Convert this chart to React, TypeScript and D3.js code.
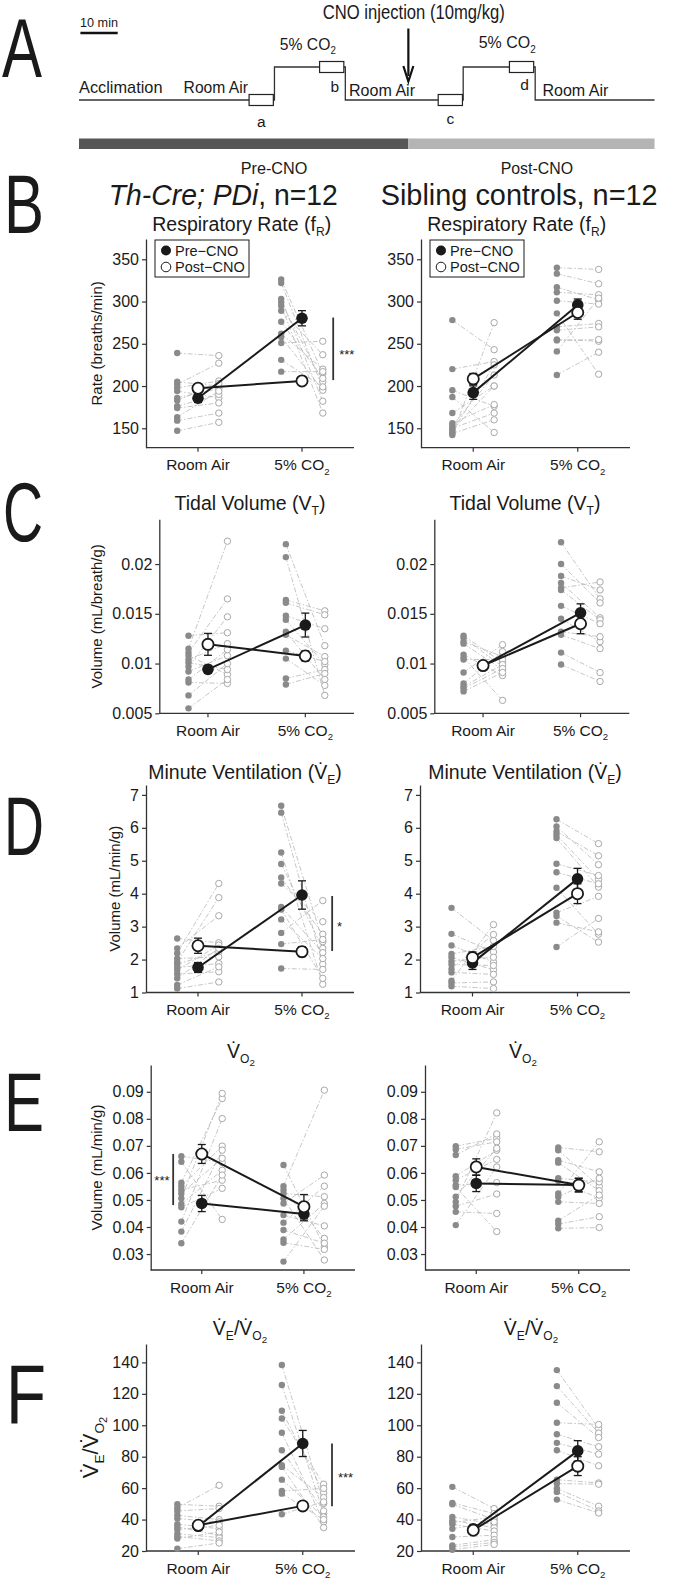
import { useEffect, useRef } from 'react';
import * as d3 from 'd3';

const W = 683;
const H = 1585;
const FONT = '"Liberation Sans", Arial, Helvetica, sans-serif';

// ---- data (subjects listed in the same order in pre / post arrays) ----
const categories = ['Room Air', '5% CO2'];

// Respiratory rate (breaths/min)
const thFrPreRoom = [239, 205, 202, 198, 194, 186, 183, 176, 174, 163, 159, 147];
const thFrPostRoom = [236, 200, 227, 206, 186, 197, 203, 190, 180, 194, 168, 157];
const thFrPreCo2 = [326, 322, 303, 299, 295, 289, 276, 262, 258, 251, 231, 217];
const thFrPostCo2 = [215, 197, 182, 205, 168, 237, 209, 220, 195, 253, 199, 217];
const thFrMean = [185.5, 197.3, 280.2, 206];
const thFrSem = [5, 5, 9, 4];

const sibFrPreRoom = [278, 220, 195, 187, 168, 156, 153, 150, 148, 146, 144, 142];
const sibFrPostRoom = [243, 229, 176, 145, 200, 178, 213, 168, 200, 225, 160, 275];
const sibFrPreCo2 = [340, 333, 317, 311, 301, 286, 270, 266, 255, 254, 241, 213];
const sibFrPostCo2 = [338, 321, 302, 308, 297, 214, 274, 270, 253, 255, 304, 240];
const sibFrMean = [192.2, 208.4, 296, 287];
const sibFrSem = [8, 6.5, 7, 8];

// Tidal volume (mL/breath/g)
const thVtPreRoom = [0.0128, 0.0115, 0.0111, 0.0108, 0.0104, 0.0101, 0.0097, 0.0092, 0.0084, 0.0081, 0.0068, 0.0055];
const thVtPostRoom = [0.0131, 0.0223, 0.0165, 0.0089, 0.012, 0.0094, 0.0147, 0.0108, 0.0114, 0.008, 0.01, 0.0084];
const thVtPreCo2 = [0.022, 0.0207, 0.0164, 0.0161, 0.0148, 0.0144, 0.0132, 0.0129, 0.0113, 0.0105, 0.0085, 0.0079];
const thVtPostCo2 = [0.0118, 0.0068, 0.0153, 0.0149, 0.0135, 0.0099, 0.0084, 0.0107, 0.0102, 0.0078, 0.0094, 0.009];
const thVtMean = [0.00942, 0.01193, 0.01387, 0.01076];
const thVtSem = [0.0004, 0.0011, 0.0012, 0.0005];

const sibVtPreRoom = [0.0128, 0.0126, 0.0122, 0.012, 0.0109, 0.0106, 0.0104, 0.0091, 0.008, 0.0077, 0.0075, 0.0072];
const sibVtPostRoom = [0.0101, 0.0097, 0.0107, 0.0094, 0.0088, 0.0063, 0.0104, 0.0119, 0.0112, 0.0099, 0.0095, 0.0091];
const sibVtPreCo2 = [0.0222, 0.02, 0.0188, 0.0181, 0.0176, 0.0174, 0.0158, 0.0145, 0.0132, 0.0129, 0.0111, 0.0099];
const sibVtPostCo2 = [0.0165, 0.0161, 0.0174, 0.0146, 0.0182, 0.0144, 0.014, 0.0122, 0.0127, 0.0115, 0.0091, 0.0082];
const sibVtMean = [0.0098, 0.0098, 0.0151, 0.014];
const sibVtSem = [0.0004, 0.0003, 0.0009, 0.001];

// Minute ventilation (mL/min/g)
const thVePreRoom = [2.64, 2.34, 2.19, 2.03, 1.93, 1.86, 1.76, 1.68, 1.56, 1.43, 1.23, 1.12];
const thVePostRoom = [2.51, 3.33, 4.31, 2.08, 3.88, 2.24, 1.88, 2.44, 1.63, 2.34, 1.78, 1.32];
const thVePreCo2 = [6.67, 6.46, 5.25, 4.9, 4.49, 4.31, 3.6, 3.52, 3.22, 2.81, 2.47, 1.73];
const thVePostCo2 = [2.54, 1.86, 1.25, 2.34, 2.77, 3.15, 2.21, 1.43, 2.03, 3.79, 2.61, 1.7];
const thVeMean = [1.76, 2.42, 3.96, 2.24];
const thVeSem = [0.15, 0.23, 0.43, 0.15];

const sibVePreRoom = [3.57, 2.78, 2.43, 2.17, 2.07, 1.95, 1.85, 1.71, 1.61, 1.36, 1.29, 1.19];
const sibVePostRoom = [2.58, 2.23, 1.92, 2.4, 1.69, 2.07, 1.82, 2.76, 1.55, 3.06, 1.32, 1.12];
const sibVePreCo2 = [6.26, 6.04, 5.89, 5.79, 5.69, 4.91, 4.65, 4.18, 3.42, 3.32, 3.12, 2.38];
const sibVePostCo2 = [5.52, 4.88, 5.15, 4.43, 4.2, 4.55, 4.3, 2.77, 3.92, 2.53, 2.84, 3.25];
const sibVeMean = [1.9, 2.06, 4.45, 4.0];
const sibVeSem = [0.2, 0.17, 0.32, 0.3];

// O2 consumption (mL/min/g)
const thVo2PreRoom = [0.0662, 0.0641, 0.0564, 0.0551, 0.0537, 0.0524, 0.0506, 0.0485, 0.0473, 0.042, 0.0383, 0.034];
const thVo2PostRoom = [0.0638, 0.0428, 0.0875, 0.0699, 0.0573, 0.0654, 0.0894, 0.061, 0.0543, 0.0801, 0.0684, 0.0592];
const thVo2PreCo2 = [0.0629, 0.0551, 0.0537, 0.0524, 0.0506, 0.0487, 0.0444, 0.0416, 0.0389, 0.0354, 0.0342, 0.0272];
const thVo2PostCo2 = [0.0327, 0.0906, 0.0358, 0.0512, 0.0278, 0.0592, 0.0404, 0.0551, 0.034, 0.0487, 0.0317, 0.0477];
const thVo2Mean = [0.0487, 0.067, 0.0448, 0.0475];
const thVo2Sem = [0.003, 0.0035, 0.0025, 0.0045];

const sibVo2PreRoom = [0.0699, 0.0687, 0.0666, 0.0588, 0.0573, 0.0555, 0.0548, 0.0512, 0.0493, 0.0477, 0.0456, 0.0407];
const sibVo2PostRoom = [0.0728, 0.0715, 0.0744, 0.0684, 0.065, 0.0564, 0.0383, 0.0691, 0.0822, 0.0522, 0.045, 0.0622];
const sibVo2PreCo2 = [0.0694, 0.0684, 0.0647, 0.0638, 0.058, 0.0571, 0.0524, 0.0512, 0.0493, 0.0423, 0.0411, 0.0395];
const sibVo2PostCo2 = [0.0678, 0.055, 0.0604, 0.0534, 0.0567, 0.0506, 0.0715, 0.058, 0.0487, 0.0518, 0.0438, 0.0398];
const sibVo2Mean = [0.0561, 0.0622, 0.0555, 0.0555];
const sibVo2Sem = [0.003, 0.003, 0.0025, 0.0025];

// VE / VO2
const thRatioPreRoom = [49.7, 47.4, 45.5, 42.7, 40.6, 37, 35.3, 33.6, 31, 29.3, 27.9, 21.5];
const thRatioPostRoom = [48.5, 61.8, 47, 40, 38.5, 34.2, 30, 36.3, 28.5, 26.4, 32.1, 25.1];
const thRatioPreCo2 = [138.3, 125.6, 109.2, 104.3, 95.2, 84.1, 74.6, 73.5, 65.4, 58.2, 56.5, 43.4];
const thRatioPostCo2 = [50.2, 43.8, 57, 62.5, 38.5, 45.5, 54, 34.9, 41.7, 59.8, 40, 51.2];
const thRatioMean = [35.7, 36.4, 88.4, 48.7];
const thRatioSem = [2, 2, 8.3, 2];

const sibRatioPreRoom = [60.8, 50.6, 49.7, 41.7, 39.5, 38, 37, 34.2, 28.9, 23.6, 22.5, 20.8];
const sibRatioPostRoom = [47, 43.8, 40, 37, 34.9, 41.7, 32.7, 38.5, 30, 27.2, 25.5, 24.2];
const sibRatioPreCo2 = [135.1, 124.9, 114.3, 101.6, 94.3, 88.8, 84.1, 65.4, 62.9, 59.8, 57.6, 52.7];
const sibRatioPostCo2 = [98, 95, 92.2, 100.5, 86.3, 81.6, 74.2, 63.3, 62.5, 48.5, 45.5, 44.2];
const sibRatioMean = [34.2, 33.2, 83.7, 74];
const sibRatioSem = [2, 2, 6.5, 6];

// protocol timeline (minutes) for panel A
const stepTimes = [0, 52.4, 71.4, 103.0, 122.3, 154.3];
const stepLevels = ['low', 'high', 'low', 'high', 'low'];
const boxStarts = [45.6, 64.5, 96.3, 115.4];
const boxLabels = ['a', 'b', 'c', 'd'];
const cnoTime = 88.3;

type Seg = { t: string; s?: number };
const V = 'V\u0307';

const sub = (t: string): Seg => ({ t, s: 1 });

function rich(sel: any, segs: Seg[], size: number) {
  let cur = 0;
  segs.forEach(seg => {
    const lvl = seg.s || 0;
    const fs = lvl === 0 ? size : lvl === 1 ? size * 0.62 : size * 0.5;
    const off = lvl === 0 ? 0 : lvl === 1 ? size * 0.28 : size * 0.4;
    sel.append('tspan').attr('font-size', fs).attr('dy', off - cur).text(seg.t);
    cur = off;
  });
}

const catSegs: Seg[][] = [[{ t: categories[0] }], [{ t: '5% CO' }, sub('2')]];

const rows = [
  { key: 'B', top: 239, bottom: 447.7, titleY: 231, title: [{ t: 'Respiratory Rate (f' }, sub('R'), { t: ')' }], ylabel: [{ t: 'Rate (breaths/min)' }], ylabelX: 101.7, ylabelSize: 15, domain: [127, 374], ticks: [150, 200, 250, 300, 350] },
  { key: 'C', top: 519.3, bottom: 713.3, titleY: 510, title: [{ t: 'Tidal Volume (V' }, sub('T'), { t: ')' }], ylabel: [{ t: 'Volume (mL/breath/g)' }], ylabelX: 101.7, ylabelSize: 15, domain: [0.005, 0.0245], ticks: [0.005, 0.01, 0.015, 0.02] },
  { key: 'D', top: 785, bottom: 992.5, titleY: 779, title: [{ t: 'Minute Ventilation (' + V }, sub('E'), { t: ')' }], ylabel: [{ t: 'Volume (mL/min/g)' }], ylabelX: 120, ylabelSize: 15, domain: [1, 7.3], ticks: [1, 2, 3, 4, 5, 6, 7] },
  { key: 'E', top: 1065, bottom: 1270, titleY: 1058, title: [{ t: V }, sub('O'), { t: '2', s: 2 }], ylabel: [{ t: 'Volume (mL/min/g)' }], ylabelX: 101.7, ylabelSize: 15, domain: [0.0241, 0.0999], ticks: [0.03, 0.04, 0.05, 0.06, 0.07, 0.08, 0.09] },
  { key: 'F', top: 1344, bottom: 1551, titleY: 1335, title: [{ t: V }, sub('E'), { t: '/' + V }, sub('O'), { t: '2', s: 2 }], ylabel: [{ t: V }, sub('E'), { t: '/' + V }, sub('O'), { t: '2', s: 2 }], ylabelX: 98, ylabelSize: 22, domain: [20, 151.7], ticks: [20, 40, 60, 80, 100, 120, 140] },
];

const panels = [
  { row: 0, left: 146, right: 354, titleX: 241.7, pre: [thFrPreRoom, thFrPreCo2], post: [thFrPostRoom, thFrPostCo2], mean: thFrMean, sem: thFrSem, sig: { x: 2.3, y1: 281, y2: 207, label: '***', lx: 2.43, ly: 240 }, legend: { x: 155, y: 240 } },
  { row: 0, left: 421, right: 630, titleX: 516.7, pre: [sibFrPreRoom, sibFrPreCo2], post: [sibFrPostRoom, sibFrPostCo2], mean: sibFrMean, sem: sibFrSem, legend: { x: 430, y: 240 } },
  { row: 1, left: 159.3, right: 354, titleX: 250, pre: [thVtPreRoom, thVtPreCo2], post: [thVtPostRoom, thVtPostCo2], mean: thVtMean, sem: thVtSem },
  { row: 1, left: 434.3, right: 629.3, titleX: 525, pre: [sibVtPreRoom, sibVtPreCo2], post: [sibVtPostRoom, sibVtPostCo2], mean: sibVtMean, sem: sibVtSem },
  { row: 2, left: 146, right: 354, titleX: 245, pre: [thVePreRoom, thVePreCo2], post: [thVePostRoom, thVePostCo2], mean: thVeMean, sem: thVeSem, sig: { x: 2.29, y1: 3.93, y2: 2.26, label: '*', lx: 2.36, ly: 3.08 } },
  { row: 2, left: 420, right: 630, titleX: 525, pre: [sibVePreRoom, sibVePreCo2], post: [sibVePostRoom, sibVePostCo2], mean: sibVeMean, sem: sibVeSem },
  { row: 3, left: 150.7, right: 355, titleX: 241, pre: [thVo2PreRoom, thVo2PreCo2], post: [thVo2PostRoom, thVo2PostCo2], mean: thVo2Mean, sem: thVo2Sem, sig: { x: 0.72, y1: 0.067, y2: 0.0481, label: '***', lx: 0.61, ly: 0.058 } },
  { row: 3, left: 425, right: 630, titleX: 523, pre: [sibVo2PreRoom, sibVo2PreCo2], post: [sibVo2PostRoom, sibVo2PostCo2], mean: sibVo2Mean, sem: sibVo2Sem },
  { row: 4, left: 146, right: 355, titleX: 240, pre: [thRatioPreRoom, thRatioPreCo2], post: [thRatioPostRoom, thRatioPostCo2], mean: thRatioMean, sem: thRatioSem, sig: { x: 2.28, y1: 88.4, y2: 48.5, label: '***', lx: 2.41, ly: 68.2 } },
  { row: 4, left: 421, right: 630, titleX: 531, pre: [sibRatioPreRoom, sibRatioPreCo2], post: [sibRatioPostRoom, sibRatioPostCo2], mean: sibRatioMean, sem: sibRatioSem },
];

const letters = [
  { t: 'A', x: 2, y: 77 },
  { t: 'B', x: 4, y: 233 },
  { t: 'C', x: 3, y: 541 },
  { t: 'D', x: 4, y: 855 },
  { t: 'E', x: 4, y: 1131 },
  { t: 'F', x: 6, y: 1423 },
];

function condensed(g: any, x: number, y: number, len: number, size: number, segs: Seg[], anchor = 'start') {
  const t = g.append('text')
    .attr('x', x).attr('y', y)
    .attr('font-family', FONT).attr('font-size', size)
    .attr('fill', '#1a1a1a')
    .attr('text-anchor', anchor)
    .attr('textLength', len).attr('lengthAdjust', 'spacingAndGlyphs');
  rich(t, segs, size);
  return t;
}

function drawTimeline(svg: any) {
  const g = svg.append('g');
  const t = d3.scaleLinear().domain([0, 10]).range([79, 116.3]);
  const lev = (l: string) => (l === 'low' ? 100 : 67);

  // scale bar
  g.append('line').attr('x1', 80.4).attr('x2', 117.7).attr('y1', 33).attr('y2', 33)
    .attr('stroke', '#111').attr('stroke-width', 2.5);
  condensed(g, 80, 27, 38, 13.5, [{ t: '10 min' }]);

  // stepped trace
  const pts: [number, number][] = [];
  stepLevels.forEach((l, i) => {
    pts.push([t(stepTimes[i]), lev(l)]);
    pts.push([t(stepTimes[i + 1]), lev(l)]);
  });
  g.append('path').attr('d', d3.line()(pts)).attr('fill', 'none')
    .attr('stroke', '#333').attr('stroke-width', 1.3);

  // sampling windows
  boxStarts.forEach((b, i) => {
    const level = stepLevels[i % 2 === 0 ? 0 : 1];
    const yc = lev(level);
    g.append('rect').attr('x', t(b)).attr('y', yc - 5.5).attr('width', t(b + 6.5) - t(b)).attr('height', 11)
      .attr('fill', '#fff').attr('stroke', '#222').attr('stroke-width', 1.2);
    const lx = i % 2 === 1 ? t(b + 6.5) - 9 : t(b + 3.25);
    const ly = i === 0 ? 127.4 : i === 1 ? 92.2 : i === 2 ? 123.8 : 90;
    g.append('text').attr('x', lx).attr('y', ly)
      .attr('text-anchor', 'middle').attr('font-family', FONT).attr('font-size', 15.5).attr('fill', '#1a1a1a')
      .text(boxLabels[i]);
  });

  condensed(g, 79, 93, 83.5, 17, [{ t: 'Acclimation' }]);
  condensed(g, 183.6, 93, 64.4, 17, [{ t: 'Room Air' }]);
  condensed(g, 279.8, 49.6, 56, 17, [{ t: '5% CO' }, sub('2')]);
  condensed(g, 349, 95.7, 66, 17, [{ t: 'Room Air' }]);
  condensed(g, 478.7, 48.3, 57, 17, [{ t: '5% CO' }, sub('2')]);
  condensed(g, 542.4, 95.7, 66, 17, [{ t: 'Room Air' }]);

  // CNO injection arrow
  const ax = t(cnoTime);
  condensed(g, 322.8, 18.5, 182, 19.5, [{ t: 'CNO injection (10mg/kg)' }]);
  g.append('line').attr('x1', ax).attr('x2', ax).attr('y1', 28.5).attr('y2', 76)
    .attr('stroke', '#111').attr('stroke-width', 2.2);
  g.append('path').attr('d', `M${ax - 5},66 L${ax},81.5 L${ax + 5},66`)
    .attr('fill', 'none').attr('stroke', '#111').attr('stroke-width', 2.2);

  // pre / post bars
  g.append('rect').attr('x', t(0)).attr('y', 138.5).attr('width', t(cnoTime) - t(0)).attr('height', 10.5).attr('fill', '#565656');
  g.append('rect').attr('x', t(cnoTime)).attr('y', 138.5).attr('width', t(stepTimes[5]) - t(cnoTime)).attr('height', 10.5).attr('fill', '#b4b4b4');
  condensed(g, 240.7, 173.5, 66.7, 17, [{ t: 'Pre-CNO' }]);
  condensed(g, 500.7, 173.5, 72.4, 17, [{ t: 'Post-CNO' }]);
}

function drawPanel(svg: any, p: any) {
  const r = rows[p.row];
  const g = svg.append('g');
  const x = d3.scaleLinear().domain([0.5, 2.5]).range([p.left, p.right]);
  const y = d3.scaleLinear().domain(r.domain).range([r.bottom, r.top]);
  const cx = [1, 2];
  const off = 0.2;

  // title
  const tt = g.append('text').attr('x', p.titleX).attr('y', r.titleY).attr('text-anchor', 'middle')
    .attr('font-family', FONT).attr('font-size', 19.5).attr('fill', '#1a1a1a');
  rich(tt, r.title, 19.5);

  // y axis
  const ya = d3.axisLeft(y).tickValues(r.ticks).tickSize(4).tickSizeOuter(0).tickPadding(3)
    .tickFormat((d: any) => String(d));
  const ag = g.append('g').attr('transform', `translate(${p.left},0)`).call(ya);
  ag.select('.domain').attr('stroke', '#333').attr('stroke-width', 1.3);
  ag.selectAll('.tick line').attr('stroke', '#333').attr('stroke-width', 1.2);
  ag.selectAll('.tick text').attr('font-size', 16).attr('font-family', FONT).attr('fill', '#1a1a1a');

  // x axis
  g.append('line').attr('x1', p.left).attr('x2', p.right).attr('y1', r.bottom).attr('y2', r.bottom)
    .attr('stroke', '#333').attr('stroke-width', 1.3);
  cx.forEach((c, i) => {
    g.append('line').attr('x1', x(c)).attr('x2', x(c)).attr('y1', r.bottom).attr('y2', r.bottom + 4)
      .attr('stroke', '#333').attr('stroke-width', 1.2);
    const lt = g.append('text').attr('x', x(c)).attr('y', r.bottom + 22.5).attr('text-anchor', 'middle')
      .attr('font-family', FONT).attr('font-size', 15.5).attr('fill', '#1a1a1a');
    rich(lt, catSegs[i], 15.5);
  });

  // y label (left column only)
  if (p.left < 300) {
    const yl = g.append('text')
      .attr('transform', `translate(${r.ylabelX},${(r.top + r.bottom) / 2}) rotate(-90)`)
      .attr('text-anchor', 'middle').attr('dy', '0.35em')
      .attr('font-family', FONT).attr('font-size', r.ylabelSize).attr('fill', '#1a1a1a');
    rich(yl, r.ylabel, r.ylabelSize);
  }

  // individual subject lines
  cx.forEach((c, ci) => {
    p.pre[ci].forEach((v: number, i: number) => {
      g.append('line')
        .attr('x1', x(c - off)).attr('y1', y(v))
        .attr('x2', x(c + off)).attr('y2', y(p.post[ci][i]))
        .attr('stroke', '#b8b8b8').attr('stroke-width', 0.8)
        .attr('stroke-dasharray', '5,2,1.5,2');
    });
  });
  cx.forEach((c, ci) => {
    g.selectAll(null).data(p.pre[ci]).join('circle')
      .attr('cx', x(c - off)).attr('cy', (d: number) => y(d)).attr('r', 3.2)
      .attr('fill', '#8a8a8a');
    g.selectAll(null).data(p.post[ci]).join('circle')
      .attr('cx', x(c + off)).attr('cy', (d: number) => y(d)).attr('r', 3.2)
      .attr('fill', '#fff').attr('stroke', '#a8a8a8').attr('stroke-width', 1);
  });

  // group means
  const m = p.mean;
  const s = p.sem;
  [[0, 2], [1, 3]].forEach(([a, b]) => {
    g.append('line').attr('x1', x(1)).attr('y1', y(m[a])).attr('x2', x(2)).attr('y2', y(m[b]))
      .attr('stroke', '#1a1a1a').attr('stroke-width', 2);
  });
  m.forEach((v: number, i: number) => {
    const xc = x(i < 2 ? 1 : 2);
    const eg = g.append('g').attr('stroke', '#1a1a1a').attr('stroke-width', 1.3);
    eg.append('line').attr('x1', xc).attr('x2', xc).attr('y1', y(v - s[i])).attr('y2', y(v + s[i]));
    eg.append('line').attr('x1', xc - 4).attr('x2', xc + 4).attr('y1', y(v - s[i])).attr('y2', y(v - s[i]));
    eg.append('line').attr('x1', xc - 4).attr('x2', xc + 4).attr('y1', y(v + s[i])).attr('y2', y(v + s[i]));
  });
  [0, 2].forEach(i => {
    g.append('circle').attr('cx', x(i < 2 ? 1 : 2)).attr('cy', y(m[i])).attr('r', 5.8).attr('fill', '#1a1a1a');
  });
  [1, 3].forEach(i => {
    g.append('circle').attr('cx', x(i < 2 ? 1 : 2)).attr('cy', y(m[i])).attr('r', 5.6)
      .attr('fill', '#fff').attr('stroke', '#1a1a1a').attr('stroke-width', 1.8);
  });

  // significance
  if (p.sig) {
    const sg = p.sig;
    g.append('line').attr('x1', x(sg.x)).attr('x2', x(sg.x)).attr('y1', y(sg.y1)).attr('y2', y(sg.y2))
      .attr('stroke', '#333').attr('stroke-width', 1.8);
    g.append('text').attr('x', x(sg.lx)).attr('y', y(sg.ly) + 7).attr('text-anchor', 'middle')
      .attr('font-family', FONT).attr('font-size', 13).attr('fill', '#1a1a1a').text(sg.label);
  }

  // legend
  if (p.legend) {
    const lg = g.append('g').attr('transform', `translate(${p.legend.x},${p.legend.y})`);
    lg.append('rect').attr('width', 94).attr('height', 37).attr('fill', '#fff')
      .attr('stroke', '#1a1a1a').attr('stroke-width', 1);
    lg.append('circle').attr('cx', 11).attr('cy', 10.5).attr('r', 5).attr('fill', '#1a1a1a');
    lg.append('circle').attr('cx', 11).attr('cy', 27).attr('r', 4.8).attr('fill', '#fff')
      .attr('stroke', '#1a1a1a').attr('stroke-width', 1);
    lg.append('text').attr('x', 20).attr('y', 15.5).attr('font-family', FONT).attr('font-size', 14.5)
      .attr('fill', '#1a1a1a').text('Pre\u2212CNO');
    lg.append('text').attr('x', 20).attr('y', 32).attr('font-family', FONT).attr('font-size', 14.5)
      .attr('fill', '#1a1a1a').text('Post\u2212CNO');
  }
}

export default function App() {
  const ref = useRef<SVGSVGElement>(null);

  useEffect(() => {
    if (!ref.current) return;
    const svg = d3.select(ref.current);
    svg.selectAll('*').remove();

    drawTimeline(svg);

    // group headers
    const hg = svg.append('g');
    const h1 = hg.append('text').attr('x', 108.8).attr('y', 205).attr('font-family', FONT).attr('font-size', 29)
      .attr('fill', '#1a1a1a').attr('textLength', 229).attr('lengthAdjust', 'spacingAndGlyphs');
    h1.append('tspan').attr('font-style', 'italic').text('Th-Cre; PDi');
    h1.append('tspan').text(', n=12');
    hg.append('text').attr('x', 380.7).attr('y', 205).attr('font-family', FONT).attr('font-size', 29)
      .attr('fill', '#1a1a1a').attr('textLength', 277).attr('lengthAdjust', 'spacingAndGlyphs')
      .text('Sibling controls, n=12');

    // panel letters
    letters.forEach(l => {
      svg.append('text').attr('x', l.x).attr('y', l.y).attr('font-family', FONT).attr('font-size', 84)
        .attr('fill', '#1a1a1a').attr('textLength', 40).attr('lengthAdjust', 'spacingAndGlyphs').text(l.t);
    });

    panels.forEach(p => drawPanel(svg, p));
  }, []);

  return (
    <div style={{ position: 'absolute', left: 0, top: 0 }}>
      <svg ref={ref} width={W} height={H} style={{ display: 'block', background: '#fff' }} />
    </div>
  );
}
